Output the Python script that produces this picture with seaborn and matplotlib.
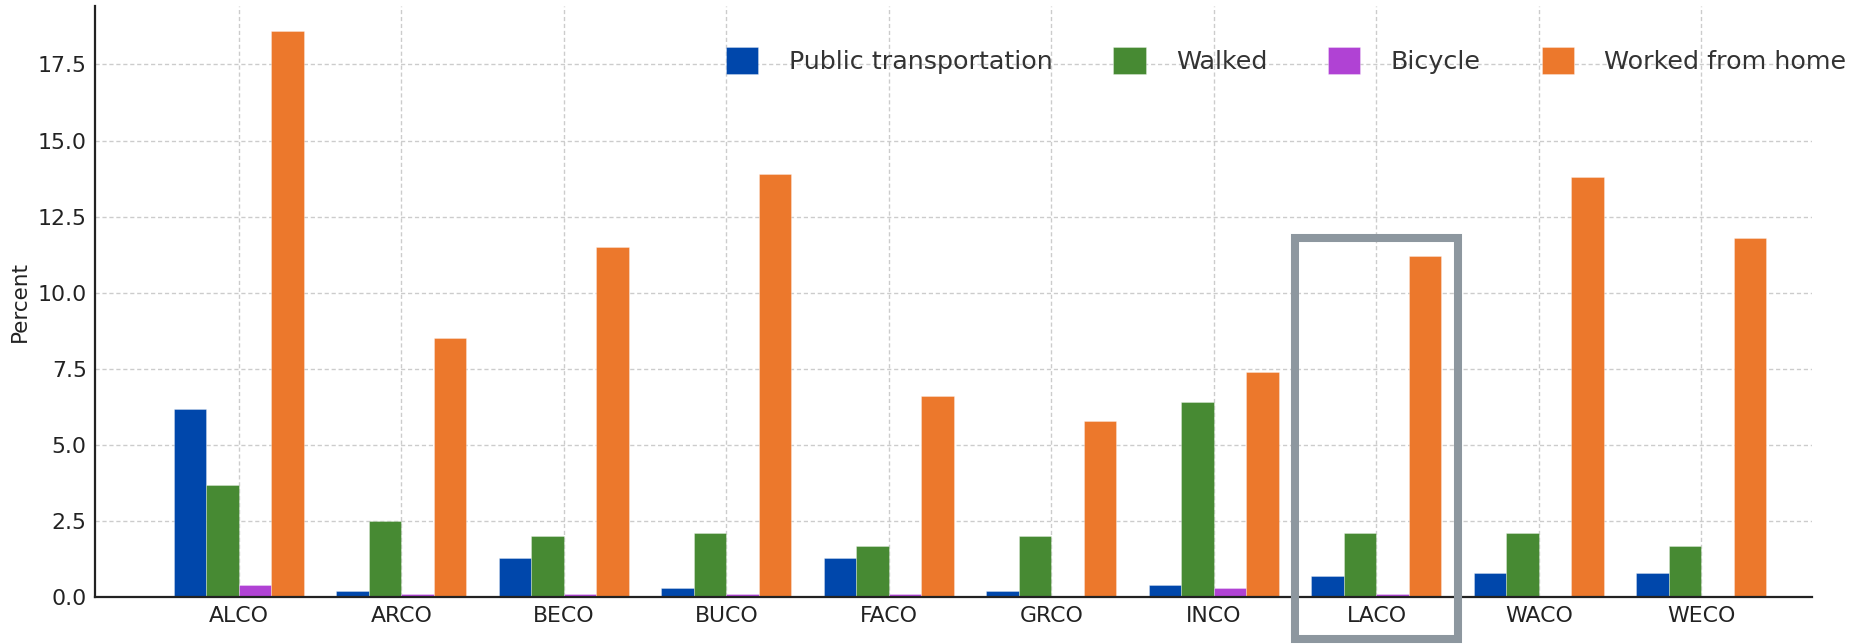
import matplotlib
matplotlib.use("Agg")
import matplotlib.pyplot as plt
import matplotlib.patches as mpatches
import seaborn as sns
import pandas as pd

counties = ["ALCO", "ARCO", "BECO", "BUCO", "FACO", "GRCO", "INCO", "LACO", "WACO", "WECO"]
public_transportation = [6.2, 0.2, 1.3, 0.3, 1.3, 0.2, 0.4, 0.7, 0.8, 0.8]
walked = [3.7, 2.5, 2.0, 2.1, 1.7, 2.0, 6.4, 2.1, 2.1, 1.7]
bicycle = [0.4, 0.1, 0.1, 0.1, 0.1, 0.0, 0.3, 0.1, 0.0, 0.0]
worked_from_home = [18.6, 8.5, 11.5, 13.9, 6.6, 5.8, 7.4, 11.2, 13.8, 11.8]
modes = ["Public transportation", "Walked", "Bicycle", "Worked from home"]
colors = ["#0047AB", "#478A33", "#B042D4", "#EC782C"]
highlight = "LACO"

rows = []
for mode, vals in zip(modes, [public_transportation, walked, bicycle, worked_from_home]):
    for c, v in zip(counties, vals):
        rows.append({"County": c, "Mode": mode, "Percent": v})
df = pd.DataFrame(rows)

sns.set_theme(style="white")
plt.rcParams["font.family"] = ["DejaVu Sans"]

W, H = 1866, 644
fig = plt.figure(figsize=(W / 100, H / 100), dpi=100)
ax = fig.add_axes([95 / W, 1 - 597.3 / H, (1812 - 95) / W, (597.3 - 6) / H])

sns.barplot(data=df, x="County", y="Percent", hue="Mode", order=counties,
            hue_order=modes, palette=colors, width=0.8, ax=ax,
            edgecolor=(1, 1, 1, 0.35), linewidth=0.6, saturation=1, errorbar=None)

ax.set_axisbelow(True)
ax.grid(True, axis="both", linestyle=(0, (3, 2)), color="#cccccc", linewidth=1.0)
ax.set_xlim(-0.886, 9.68)
ax.set_ylim(0, 19.42)
ax.set_yticks([0, 2.5, 5.0, 7.5, 10.0, 12.5, 15.0, 17.5])
ax.set_yticklabels(["0.0", "2.5", "5.0", "7.5", "10.0", "12.5", "15.0", "17.5"])
ax.set_xlabel("")
ax.set_ylabel("Percent", fontsize=15.5, color="#222222", labelpad=5.5)
ax.tick_params(axis="both", direction="in", length=5, width=1.2, colors="#222222",
               labelsize=15.8, pad=6)
for s in ["top", "right"]:
    ax.spines[s].set_visible(False)
for s in ["left", "bottom"]:
    ax.spines[s].set_color("#222222")
    ax.spines[s].set_linewidth(1.6)

# highlight box around LACO
i = counties.index(highlight)
rect = mpatches.Rectangle((i - 0.5, -1.37), 1.0, 13.18, fill=False,
                          edgecolor="#8D979F", linewidth=5.8, clip_on=False, zorder=5)
ax.add_patch(rect)

handles, labels = ax.get_legend_handles_labels()
ax.legend(handles, labels, ncol=4, frameon=False, loc="center left",
          bbox_to_anchor=(726 / W, 1 - 60.5 / H), bbox_transform=fig.transFigure,
          borderpad=0, borderaxespad=0, fontsize=18.3, labelcolor="#333333",
          handlelength=1.27, handleheight=1.27, handletextpad=1.19, columnspacing=2.4)

fig.savefig("out.png", dpi=100)
